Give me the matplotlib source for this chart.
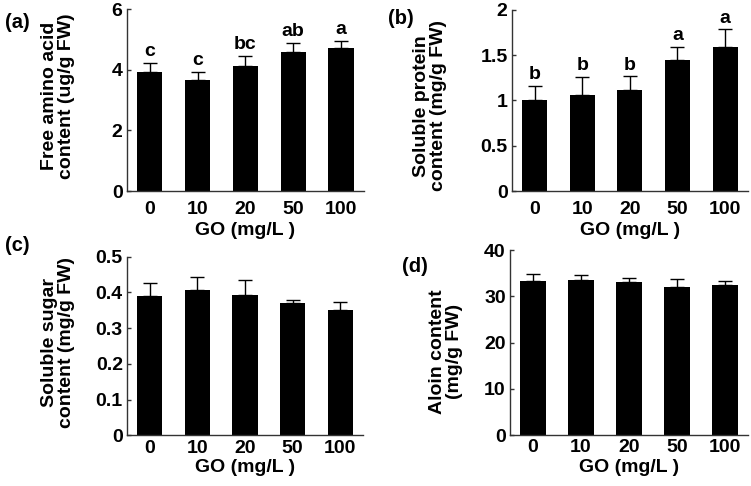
import numpy as np
import matplotlib
matplotlib.use("Agg")
import matplotlib.pyplot as plt

plt.rcParams['font.family'] = ['Liberation Sans', 'DejaVu Sans']
plt.rcParams['font.weight'] = 'bold'

# ---- data ----
go_levels = ["0", "10", "20", "50", "100"]

amino_mean = [3.93, 3.66, 4.11, 4.59, 4.71]
amino_err = [0.30, 0.27, 0.35, 0.29, 0.25]
amino_letters = ["c", "c", "bc", "ab", "a"]

protein_mean = [1.005, 1.057, 1.12, 1.447, 1.59]
protein_err = [0.155, 0.20, 0.147, 0.143, 0.196]
protein_letters = ["b", "b", "b", "a", "a"]

sugar_mean = [0.389, 0.408, 0.394, 0.370, 0.351]
sugar_err = [0.037, 0.035, 0.041, 0.009, 0.022]

aloin_mean = [33.4, 33.5, 33.0, 31.9, 32.5]
aloin_err = [1.5, 1.1, 1.0, 1.8, 0.7]

W, H = 751, 486
FS = 14
fig = plt.figure(figsize=(W / 100, H / 100), dpi=100)


def make_ax(left, right, top, bottom):
    return fig.add_axes([left / W, 1 - bottom / H, (right - left) / W, (bottom - top) / H])


def panel(ax, mean, err, ymax, yticks, yticklabels, ylabel, lab_x, lab_y,
          letters=None, xpad=7, xlabpad=3):
    x = np.arange(len(go_levels))
    ax.bar(x, mean, width=0.53, color='black', zorder=2)
    ax.errorbar(x, mean, yerr=[np.zeros(len(err)), err], fmt='none',
                ecolor='black', elinewidth=1, capsize=5, capthick=1, zorder=3)
    if letters is not None:
        for xi, m, e, t in zip(x, mean, err, letters):
            ax.annotate(t, (xi, m + e), xytext=(0, 2), textcoords='offset points',
                        ha='center', va='bottom', fontsize=FS, fontweight='bold')
    ax.set_xlim(-0.48, 4.48)
    ax.set_ylim(0, ymax)
    ax.set_xticks(x)
    ax.set_xticklabels(go_levels)
    ax.set_yticks(yticks)
    ax.set_yticklabels(yticklabels)
    ax.tick_params(axis='x', length=0, pad=xpad, labelsize=FS)
    ax.tick_params(axis='y', direction='in', length=3, width=1, pad=3, labelsize=FS,
                   color='#333333')
    for s in ['top', 'right']:
        ax.spines[s].set_visible(False)
    for s in ['left', 'bottom']:
        ax.spines[s].set_color('#333333')
        ax.spines[s].set_linewidth(1)
    ax.set_xlabel("GO (mg/L )", fontsize=FS, fontweight='bold', labelpad=xlabpad)
    ax.set_ylabel(ylabel, fontsize=FS, fontweight='bold', linespacing=1.0)
    ax.yaxis.set_label_coords(lab_x, lab_y)


ax_a = make_ax(126.7, 364, 9, 191)
panel(ax_a, amino_mean, amino_err, 6, [0, 2, 4, 6], ["0", "2", "4", "6"],
      "Free amino acid\ncontent (ug/g FW)", -0.218, 0.52, amino_letters)

ax_b = make_ax(511.7, 748, 10, 191)
panel(ax_b, protein_mean, protein_err, 2, [0, 0.5, 1, 1.5, 2],
      ["0", "0.5", "1", "1.5", "2"],
      "Soluble protein\ncontent (mg/g FW)", -0.274, 0.47, protein_letters)

ax_c = make_ax(127, 363, 256.7, 435.5)
panel(ax_c, sugar_mean, sugar_err, 0.5, [0, 0.1, 0.2, 0.3, 0.4, 0.5],
      ["0", "0.1", "0.2", "0.3", "0.4", "0.5"],
      "Soluble sugar\ncontent (mg/g FW)", -0.22, 0.52, xpad=3, xlabpad=2)

ax_d = make_ax(510, 748, 250, 435)
panel(ax_d, aloin_mean, aloin_err, 40, [0, 10, 20, 30, 40],
      ["0", "10", "20", "30", "40"],
      "Aloin content\n(mg/g FW)", -0.197, 0.45, xpad=3, xlabpad=2)

# panel letters
for t, px, py in [("(a)", 17, 23), ("(b)", 401, 19), ("(c)", 17, 245), ("(d)", 415, 267)]:
    fig.text(px / W, 1 - py / H, t, fontsize=14.5, fontweight='bold', ha='center', va='center')

fig.savefig("out.png", dpi=100)
